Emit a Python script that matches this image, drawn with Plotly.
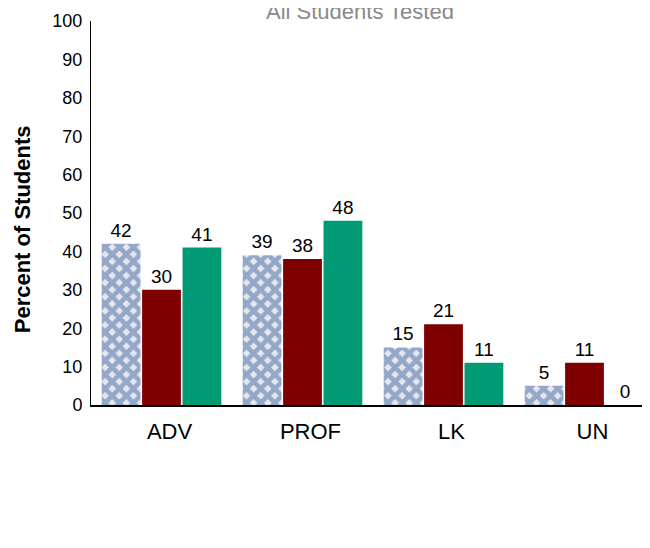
import plotly.graph_objects as go

categories = ["ADV", "PROF", "LK", "UN"]
series_a = [42, 39, 15, 5]
series_b = [30, 38, 21, 11]
series_c = [41, 48, 11, 0]
y_ticks = list(range(0, 101, 10))

fig = go.Figure()
fig.add_trace(go.Bar(
    x=categories, y=series_a, text=series_a, textposition="outside",
    marker=dict(color="#e6e6ec", line=dict(width=0),
                pattern=dict(shape="x", fgcolor="#3f68a6", bgcolor="#e6e6ec", size=10, solidity=0.7)),
    cliponaxis=False))
fig.add_trace(go.Bar(
    x=categories, y=series_b, text=series_b, textposition="outside",
    marker=dict(color="#7f0000", line=dict(width=0)), cliponaxis=False))
fig.add_trace(go.Bar(
    x=categories, y=series_c, text=series_c, textposition="outside",
    marker=dict(color="#009a74", line=dict(width=0)), cliponaxis=False))

fig.update_traces(textfont=dict(size=19, color="#000000"))

fig.update_layout(
    width=650, height=548,
    margin=dict(l=83, r=3, t=8, b=151),
    paper_bgcolor="white", plot_bgcolor="white",
    font=dict(family="Liberation Sans, Arial, sans-serif", color="#000000"),
    showlegend=False,
    barmode="group", bargap=0.14, bargroupgap=0.04,
    annotations=[
        dict(text="All Students Tested", xref="paper", yref="paper", x=0.477, y=1,
             xanchor="center", yanchor="middle", yshift=10, showarrow=False,
             font=dict(size=22, color="#8a8a8a")),
        dict(text="<b>Percent of Students</b>", xref="paper", yref="paper", x=0, y=0.4576,
             xanchor="center", yanchor="middle", xshift=-69, textangle=-90, showarrow=False,
             font=dict(size=22, color="#000000")),
    ],
)
fig.update_xaxes(showline=True, linecolor="#000000", linewidth=1.5, ticks="",
                 tickfont=dict(size=22), ticklabelshift=8, ticklabelstandoff=6, showgrid=False)
fig.update_yaxes(range=[0, 100], tickvals=y_ticks, showline=True, linecolor="#000000", linewidth=1,
                 showgrid=False, zeroline=False, tickfont=dict(size=18), ticks="",
                 ticklabelstandoff=4, ticklabeloverflow="allow")

fig.write_html("out.html")
